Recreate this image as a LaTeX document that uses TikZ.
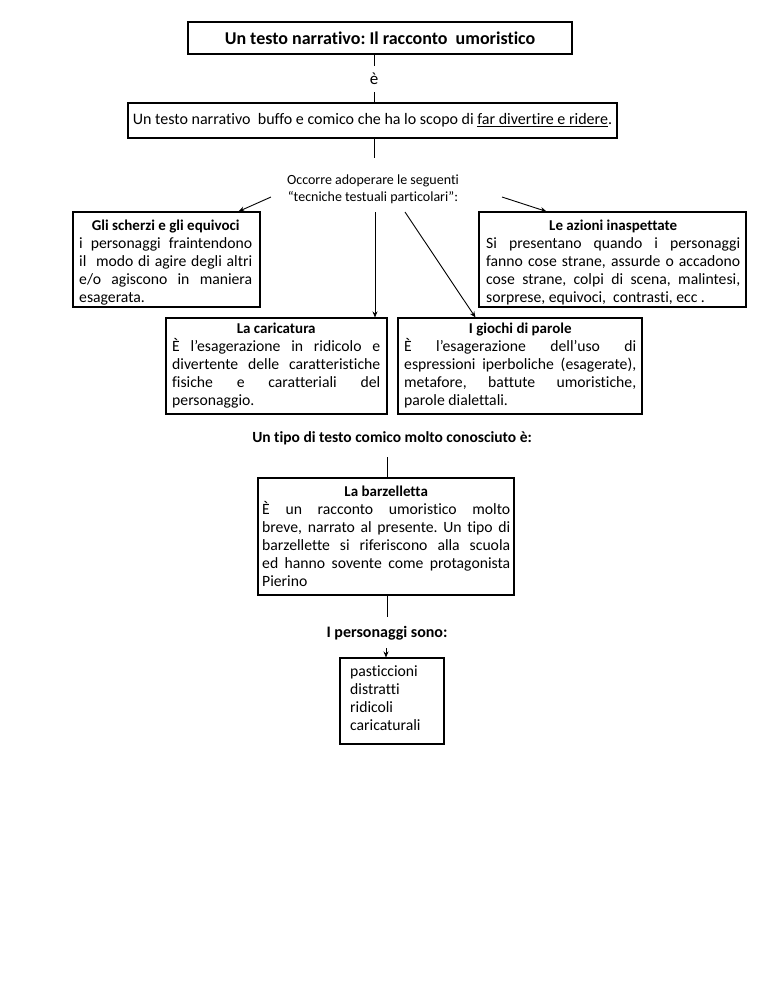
\documentclass[tikz,border=0pt]{standalone}
\usepackage{fontspec}
\setmainfont{Carlito}[Ligatures=NoCommon]
\usetikzlibrary{arrows.meta,calc}
\frenchspacing
\newcommand\myjline[1]{\hbox to\hsize{\spaceskip=0.226em plus 1fil minus 0.1em\relax\xspaceskip=\spaceskip #1}}
\newcommand\mylline[1]{\hbox to\hsize{\spaceskip=0pt\xspaceskip=0pt\relax #1\hfil}}
\newcommand\mytline[1]{{\centering\spaceskip=0pt\xspaceskip=0pt\fontsize{15}{18}\selectfont\bfseries #1\par}}
\begin{document}
\begin{tikzpicture}[x=1pt,y=-1pt,
  every node/.style={font=\fontsize{15.7}{18}\selectfont},
  box/.style={draw, line width=1.1pt, inner sep=0pt},
  txt/.style={inner sep=0pt, anchor=base west},
  conn/.style={line width=0.9pt},
  arr/.style={line width=0.9pt,-{Stealth[length=6pt,width=5pt]}},
  lbl/.style={inner sep=0pt},
  boldlbl/.style={inner sep=0pt, font=\fontsize{15.5}{18}\selectfont\bfseries}
]
\useasboundingbox (0,0) rectangle (768,994);

% title and first connectors
\node[box, font=\fontsize{18}{20}\selectfont\bfseries, minimum width=384pt, minimum height=32pt] (title) at (380,38) {Un testo narrativo: Il racconto \ umoristico};
\node[inner sep=0pt, minimum height=26pt, font=\fontsize{17}{18}\selectfont] (e) at (374,79) {è};
\node[box, font=\fontsize{16}{18}\selectfont, minimum width=489pt, minimum height=35pt] (def) at (372.5,120.5) {Un testo narrativo \ buffo e comico che ha lo scopo di \underline{far divertire e ridere}.};
\draw[conn] (title.south -| e.north) -- (e.north);
\draw[conn] (e.south) -- (e.south |- def.north);

\coordinate (occTop) at (374,158);
\draw[conn] (def.south -| occTop) -- (occTop);
\node[lbl, align=center, font=\fontsize{14}{17}\selectfont] (occ) at (373,189.5) {\spaceskip=0pt\xspaceskip=0pt\relax Occorre adoperare le seguenti\\“tecniche testuali particolari”:};

% four technique boxes
\node[box, minimum width=187pt, minimum height=95pt] (scherzi) at (166.5,259.5) {};
\node[txt, text width=173pt] (scherziT) at (79,230.5) {%
\mytline{Gli scherzi e gli equivoci}%
\myjline{i personaggi fraintendono}%
\myjline{il \ modo di agire degli altri}%
\myjline{e/o agiscono in maniera}%
\mylline{esagerata.}};

\node[box, minimum width=267pt, minimum height=95pt] (azioni) at (612.5,259.5) {};
\node[txt, text width=254pt] (azioniT) at (486,230.5) {%
\mytline{Le azioni inaspettate}%
\myjline{Si presentano quando i personaggi}%
\myjline{fanno cose strane, assurde o accadono}%
\myjline{cose strane, colpi di scena, malintesi,}%
\mylline{sorprese, equivoci, \ contrasti, ecc .}};

\node[box, minimum width=221pt, minimum height=96pt] (cari) at (276.5,366) {};
\node[txt, text width=208pt] (cariT) at (172,333.5) {%
\mytline{La caricatura}%
\myjline{È l’esagerazione in ridicolo e}%
\myjline{divertente delle caratteristiche}%
\myjline{fisiche e caratteriali del}%
\mylline{personaggio.}};

\node[box, minimum width=244pt, minimum height=96pt] (gioc) at (520,366) {};
\node[txt, text width=232pt] (giocT) at (404,333.5) {%
\mytline{I giochi di parole}%
\myjline{È l’esagerazione dell’uso di}%
\myjline{espressioni iperboliche (esagerate),}%
\myjline{metafore, battute umoristiche,}%
\mylline{parole dialettali.}};

\coordinate (aL) at (271,197);
\coordinate (aR) at (502,197);
\coordinate (aM) at (375,212);
\coordinate (aD) at (405,212);
\draw[arr] (aL) -- ($(scherzi.north east)+(-22,0)$);
\draw[arr] (aR) -- ($(azioni.north west)+(68,0)$);
\draw[arr] (aM) -- (cari.north -| aM);
\draw[arr] (aD) -- ($(gioc.north west)+(78,0)$);

% barzelletta
\node[boldlbl] (tipo) at (392,438) {Un tipo di testo comico molto conosciuto è:};
\node[box, minimum width=256pt, minimum height=117pt] (barz) at (386,536.5) {};
\node[txt, text width=248pt] (barzT) at (262,496.5) {%
\mytline{La barzelletta}%
\myjline{È un racconto umoristico molto}%
\myjline{breve, narrato al presente. Un tipo di}%
\myjline{barzellette si riferiscono alla scuola}%
\myjline{ed hanno sovente come protagonista}%
\mylline{Pierino}};
\coordinate (tipoBot) at (387,457);
\draw[conn] (tipoBot) -- (barz.north -| tipoBot);
\coordinate (persTop) at (387,617);
\draw[conn] (barz.south -| persTop) -- (persTop);

\node[boldlbl, font=\fontsize{16}{18}\selectfont\bfseries] (perslbl) at (387,633) {I personaggi sono:};
\node[box, minimum width=104pt, minimum height=86pt] (pers) at (392,701) {};
\node[txt, text width=84pt] (persT) at (350,676) {%
\spaceskip=0pt\relax pasticcioni\par
\mylline{distratti}%
\mylline{ridicoli}%
\mylline{caricaturali}};
\coordinate (pA) at (386,648);
\draw[arr] (pA) -- (pers.north -| pA);
\end{tikzpicture}
\end{document}
